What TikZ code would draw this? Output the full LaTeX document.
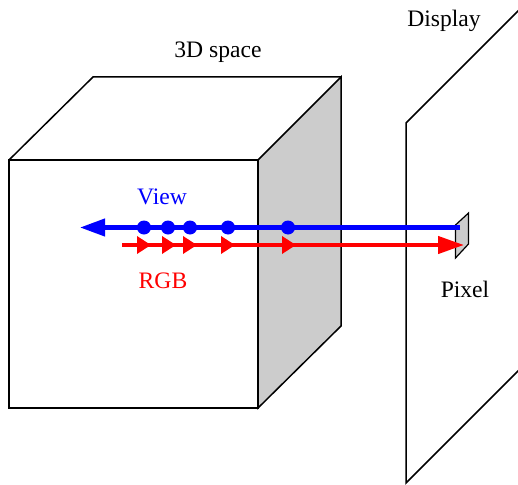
\documentclass[tikz,border=0pt]{standalone}
\usepackage{fontspec}
\setmainfont{Liberation Serif}
\usetikzlibrary
  {
    arrows.meta,              % triangle heads on the rays
    positioning,
  }
\tikzset{
  edge/.style={draw=black, line width=1.5pt, line join=miter},
  sideface/.style={edge, fill=black!20},
  viewray/.style={draw=blue, line width=4.2pt, -{Triangle[length=25pt,width=17pt]}},
  rgbray/.style={draw=red, line width=4.2pt, -{Triangle[length=14pt,width=17pt]}},
  rgbhead/.style={draw=red, line width=4.2pt, -{Triangle[length=26pt,width=17pt]}},
  sample/.style={circle, fill=blue, inner sep=0, minimum size=14pt},
  caption/.style={font=\fontsize{23.6}{27}\selectfont, anchor=base, inner sep=0},
}
\begin{document}
\begin{tikzpicture}[x=1pt,y=-1pt]
    \useasboundingbox (0,0) rectangle (518,484);
    \clip (0,0) rectangle (518,484);

    % cube corners
    \coordinate (ftl) at (9,160);
    \coordinate (ftr) at (258,160);
    \coordinate (fbr) at (258,408);
    \coordinate (fbl) at (9,408);
    \coordinate (btl) at (93,77);
    \coordinate (btr) at (341,77);
    \coordinate (bbr) at (341,326);

    % display corners, running off the right edge
    \coordinate (dtl) at (406,123);
    \coordinate (dtr) at (519,10);
    \coordinate (dbl) at (406,483);
    \coordinate (dbr) at (519,370);

    % pixel corners
    \coordinate (ptl) at (455.5,225);
    \coordinate (ptr) at (468.5,213);
    \coordinate (pbr) at (468.5,244);
    \coordinate (pbl) at (455.5,258);

    % ray ends
    \coordinate (viewstart) at (460,227.5);
    \coordinate (viewend) at (80,227.5);
    \coordinate (rgbstart) at (122,245);
    \coordinate (rgbend) at (464,245);

    \draw[sideface] (ftr) -- (btr) -- (bbr) -- (fbr) -- cycle;
    \draw[edge] (ftl) -- (ftr) -- (fbr) -- (fbl) -- cycle;
    \draw[edge] (ftl) -- (btl) -- (btr);
    \draw[edge] (dtr) -- (dtl) -- (dbl) -- (dbr);
    \draw[sideface, line width=1.2pt] (ptl) -- (ptr) -- (pbr) -- (pbl) -- cycle;

    \draw[viewray] (viewstart) -- (viewend);
    \foreach \i/\x in {1/144, 2/168, 3/190, 4/228, 5/288}
      \node (s\i) [sample] at (\x,227.5) {};

    \draw[rgbhead] (rgbstart) -- (rgbend);
    \foreach \i/\x in {1/151, 2/176, 3/197, 4/235, 5/296} {
      \coordinate (r\i) at (\x,245);
      \draw[rgbray] (rgbstart) -- (r\i);
    }

    \node (cubelabel) [caption] at (218,58) {3D space};
    \node (displaylabel) [caption] at (444,27) {Display};
    \node (viewlabel) [caption, text=blue] at (162,204) {View};
    \node (rgblabel) [caption, text=red] at (163,288) {RGB};
    \node (pixellabel) [caption] at (465,297) {Pixel};
  \end{tikzpicture}
\end{document}
